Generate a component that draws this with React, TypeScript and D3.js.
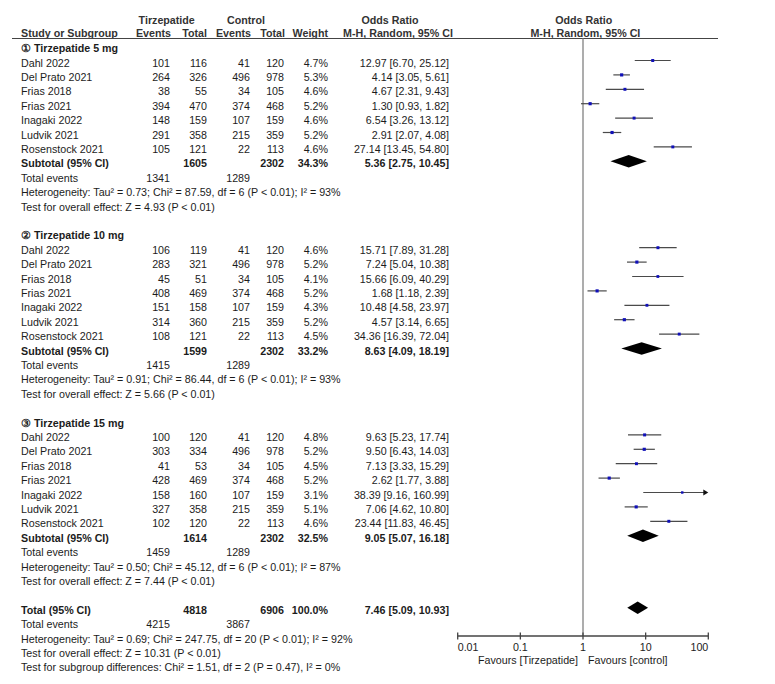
import React from "react";
import * as d3 from "d3";

const studies = ["Dahl 2022", "Del Prato 2021", "Frias 2018", "Frias 2021", "Inagaki 2022", "Ludvik 2021", "Rosenstock 2021"];
const groupTitles = ["① Tirzepatide 5 mg", "② Tirzepatide 10 mg", "③ Tirzepatide 15 mg"];

const tzEvents = [
  [101, 264, 38, 394, 148, 291, 105],
  [106, 283, 45, 408, 151, 314, 108],
  [100, 303, 41, 428, 158, 327, 102],
];
const tzTotal = [
  [116, 326, 55, 470, 159, 358, 121],
  [119, 321, 51, 469, 158, 360, 121],
  [120, 334, 53, 469, 160, 358, 120],
];
const ctEvents = [41, 496, 34, 374, 107, 215, 22];
const ctTotal = [120, 978, 105, 468, 159, 359, 113];
const weights = [
  [4.7, 5.3, 4.6, 5.2, 4.6, 5.2, 4.6],
  [4.6, 5.2, 4.1, 5.2, 4.3, 5.2, 4.5],
  [4.8, 5.2, 4.5, 5.2, 3.1, 5.1, 4.6],
];
const orVals = [
  [12.97, 4.14, 4.67, 1.3, 6.54, 2.91, 27.14],
  [15.71, 7.24, 15.66, 1.68, 10.48, 4.57, 34.36],
  [9.63, 9.5, 7.13, 2.62, 38.39, 7.06, 23.44],
];
const orLo = [
  [6.7, 3.05, 2.31, 0.93, 3.26, 2.07, 13.45],
  [7.89, 5.04, 6.09, 1.18, 4.58, 3.14, 16.39],
  [5.23, 6.43, 3.33, 1.77, 9.16, 4.62, 11.83],
];
const orHi = [
  [25.12, 5.61, 9.43, 1.82, 13.12, 4.08, 54.8],
  [31.28, 10.38, 40.29, 2.39, 23.97, 6.65, 72.04],
  [17.74, 14.03, 15.29, 3.88, 160.99, 10.8, 46.45],
];
const subTzTotal = [1605, 1599, 1614];
const subCtTotal = [2302, 2302, 2302];
const subWeight = [34.3, 33.2, 32.5];
const subOr = [5.36, 8.63, 9.05];
const subLo = [2.75, 4.09, 5.07];
const subHi = [10.45, 18.19, 16.18];
const subTzEvents = [1341, 1415, 1459];
const subCtEvents = [1289, 1289, 1289];
const subHet = [
  "Heterogeneity: Tau² = 0.73; Chi² = 87.59, df = 6 (P < 0.01); I² = 93%",
  "Heterogeneity: Tau² = 0.91; Chi² = 86.44, df = 6 (P < 0.01); I² = 93%",
  "Heterogeneity: Tau² = 0.50; Chi² = 45.12, df = 6 (P < 0.01); I² = 87%",
];
const subTest = [
  "Test for overall effect: Z = 4.93 (P < 0.01)",
  "Test for overall effect: Z = 5.66 (P < 0.01)",
  "Test for overall effect: Z = 7.44 (P < 0.01)",
];
const totTzTotal = 4818;
const totCtTotal = 6906;
const totWeight = 100.0;
const totOr = 7.46;
const totLo = 5.09;
const totHi = 10.93;
const totTzEvents = 4215;
const totCtEvents = 3867;
const totFooter = [
  "Heterogeneity: Tau² = 0.69; Chi² = 247.75, df = 20 (P < 0.01); I² = 92%",
  "Test for overall effect: Z = 10.31 (P < 0.01)",
  "Test for subgroup differences: Chi² = 1.51, df = 2 (P = 0.47), I² = 0%",
];
const axisTicks = [0.01, 0.1, 1, 10, 100];
const axisTickLabels = ["0.01", "0.1", "1", "10", "100"];

const FONT = "'Liberation Sans', Arial, Helvetica, sans-serif";
const FS = 10.7;
const TXT = "#1c1c1c";
const HDR = "#333";

const colX = { name: 21, tzE: 170, tzT: 207, ctE: 250, ctT: 284, w: 328, or: 449 };

const x = d3.scaleLog().domain([0.01, 100]).range([457.7, 708.3]).clamp(true);
const markY = (r: number) => 46.1 + r * 14.4;
const textY = (r: number) => markY(r) + 6;

const fmt2 = d3.format(".2f");
const fmtW = (w: number) => d3.format(".1f")(w) + "%";
const orText = (o: number, l: number, h: number) => `${fmt2(o)} [${fmt2(l)}, ${fmt2(h)}]`;

function T(props: any) {
  const { x: tx, y: ty, anchor = "start", bold = false, fill = TXT, children } = props;
  return (
    <text x={tx} y={ty} textAnchor={anchor} fontWeight={bold ? "bold" : "normal"} fill={fill}>
      {children}
    </text>
  );
}

function Diamond({ r, o, l, h }: { r: number; o: number; l: number; h: number }) {
  const cy = markY(r);
  const hh = 6.2;
  const p = d3.path();
  p.moveTo(x(l), cy);
  p.lineTo(x(o), cy - hh);
  p.lineTo(x(h), cy);
  p.lineTo(x(o), cy + hh);
  p.closePath();
  return <path d={p.toString()} fill="#000" />;
}

export default function App() {
  const rows: React.ReactNode[] = [];
  groupTitles.forEach((title, g) => {
    const base = g * 13;
    rows.push(
      <T key={`h${g}`} x={colX.name} y={textY(base)} bold>
        {title}
      </T>
    );
    studies.forEach((s, i) => {
      const r = base + 1 + i;
      const ty = textY(r);
      const cy = markY(r);
      const lo = orLo[g][i];
      const hi = orHi[g][i];
      const size = 1.38 * Math.sqrt(weights[g][i]);
      rows.push(
        <g key={`s${g}-${i}`}>
          <T x={colX.name} y={ty}>{s}</T>
          <T x={colX.tzE} y={ty} anchor="end">{tzEvents[g][i]}</T>
          <T x={colX.tzT} y={ty} anchor="end">{tzTotal[g][i]}</T>
          <T x={colX.ctE} y={ty} anchor="end">{ctEvents[i]}</T>
          <T x={colX.ctT} y={ty} anchor="end">{ctTotal[i]}</T>
          <T x={colX.w} y={ty} anchor="end">{fmtW(weights[g][i])}</T>
          <T x={colX.or} y={ty} anchor="end">{orText(orVals[g][i], lo, hi)}</T>
          <line x1={x(lo)} x2={hi > 100 ? x(100) - 4 : x(hi)} y1={cy} y2={cy} stroke="#4a4a4a" strokeWidth={1.2} />
          {hi > 100 && (
            <path d={`M${x(100) - 5},${cy - 3}L${x(100)},${cy}L${x(100) - 5},${cy + 3}Z`} fill="#111" />
          )}
          <rect x={x(orVals[g][i]) - size / 2} y={cy - size / 2} width={size} height={size} fill="#1010b8" />
        </g>
      );
    });
    const rs = base + 8;
    rows.push(
      <g key={`sub${g}`}>
        <T x={colX.name} y={textY(rs)} bold>Subtotal (95% CI)</T>
        <T x={colX.tzT} y={textY(rs)} anchor="end" bold>{subTzTotal[g]}</T>
        <T x={colX.ctT} y={textY(rs)} anchor="end" bold>{subCtTotal[g]}</T>
        <T x={colX.w} y={textY(rs)} anchor="end" bold>{fmtW(subWeight[g])}</T>
        <T x={colX.or} y={textY(rs)} anchor="end" bold>{orText(subOr[g], subLo[g], subHi[g])}</T>
        <Diamond r={rs} o={subOr[g]} l={subLo[g]} h={subHi[g]} />
        <T x={colX.name} y={textY(base + 9)}>Total events</T>
        <T x={colX.tzE} y={textY(base + 9)} anchor="end">{subTzEvents[g]}</T>
        <T x={colX.ctE} y={textY(base + 9)} anchor="end">{subCtEvents[g]}</T>
        <T x={colX.name} y={textY(base + 10)}>{subHet[g]}</T>
        <T x={colX.name} y={textY(base + 11)}>{subTest[g]}</T>
      </g>
    );
  });

  const rt = 39;
  const axisY = 636;

  return (
    <svg
      width={775}
      height={684}
      style={{ position: "absolute", left: 0, top: 0, background: "#fff" }}
      fontFamily={FONT}
      fontSize={FS}
    >
      <rect width={775} height={684} fill="#fff" />
      {/* headers */}
      <T x={166.7} y={24} anchor="middle" bold fill={HDR}>Tirzepatide</T>
      <T x={246} y={24} anchor="middle" bold fill={HDR}>Control</T>
      <T x={390} y={24} anchor="middle" bold fill={HDR}>Odds Ratio</T>
      <T x={583.7} y={24} anchor="middle" bold fill={HDR}>Odds Ratio</T>
      <T x={colX.name} y={37} bold fill={HDR}>Study or Subgroup</T>
      <T x={colX.tzE + 1} y={37} anchor="end" bold fill={HDR}>Events</T>
      <T x={colX.tzT} y={37} anchor="end" bold fill={HDR}>Total</T>
      <T x={colX.ctE + 1} y={37} anchor="end" bold fill={HDR}>Events</T>
      <T x={colX.ctT + 1} y={37} anchor="end" bold fill={HDR}>Total</T>
      <T x={colX.w} y={37} anchor="end" bold fill={HDR}>Weight</T>
      <T x={398} y={37} anchor="middle" bold fill={HDR}>M-H, Random, 95% CI</T>
      <T x={585.4} y={37} anchor="middle" bold fill={HDR}>M-H, Random, 95% CI</T>
      <line x1={12} x2={718} y1={38.5} y2={38.5} stroke="#444" strokeWidth={1} />

      {/* null line */}
      <line x1={x(1)} x2={x(1)} y1={38.5} y2={axisY} stroke="#8a8a8a" strokeWidth={1.4} />

      {rows}

      {/* overall */}
      <T x={colX.name} y={textY(rt)} bold>Total (95% CI)</T>
      <T x={colX.tzT} y={textY(rt)} anchor="end" bold>{totTzTotal}</T>
      <T x={colX.ctT} y={textY(rt)} anchor="end" bold>{totCtTotal}</T>
      <T x={colX.w} y={textY(rt)} anchor="end" bold>{fmtW(totWeight)}</T>
      <T x={colX.or} y={textY(rt)} anchor="end" bold>{orText(totOr, totLo, totHi)}</T>
      <Diamond r={rt} o={totOr} l={totLo} h={totHi} />
      <T x={colX.name} y={textY(rt + 1)}>Total events</T>
      <T x={colX.tzE} y={textY(rt + 1)} anchor="end">{totTzEvents}</T>
      <T x={colX.ctE} y={textY(rt + 1)} anchor="end">{totCtEvents}</T>
      {totFooter.map((t, i) => (
        <T key={`f${i}`} x={colX.name} y={textY(rt + 2 + i)}>{t}</T>
      ))}

      {/* axis */}
      <line x1={x(0.01)} x2={x(100)} y1={axisY} y2={axisY} stroke="#444" strokeWidth={1.3} />
      {axisTicks.map((t, i) => (
        <g key={`t${i}`}>
          <line x1={x(t)} x2={x(t)} y1={axisY - 3.5} y2={axisY + 3.5} stroke="#444" strokeWidth={1.3} />
          <T
            x={x(t)}
            y={axisY + 15}
            anchor={i === 0 ? "start" : i === axisTicks.length - 1 ? "end" : "middle"}
          >
            {axisTickLabels[i]}
          </T>
        </g>
      ))}
      <T x={578} y={axisY + 28} anchor="end">Favours [Tirzepatide]</T>
      <T x={588} y={axisY + 28}>Favours [control]</T>
    </svg>
  );
}
